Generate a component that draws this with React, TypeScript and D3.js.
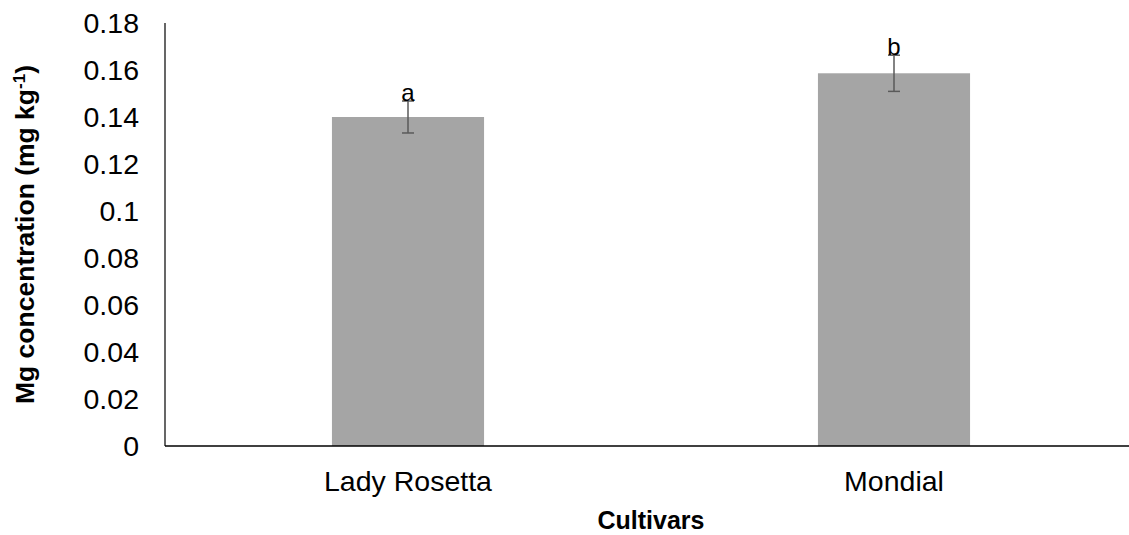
import React from "react";
import * as d3 from "d3";

// Mean Mg concentration per cultivar with standard error and significance letters
const cultivars = ["Lady Rosetta", "Mondial"];
const mgMeans = [0.14, 0.1586];
const mgErrors = [0.0068, 0.0077];
const sigLetters = ["a", "b"];
const yTickValues = [0, 0.02, 0.04, 0.06, 0.08, 0.1, 0.12, 0.14, 0.16, 0.18];
const yTickLabels = ["0", "0.02", "0.04", "0.06", "0.08", "0.1", "0.12", "0.14", "0.16", "0.18"];

const W = 1129;
const H = 535;
const plot = { left: 165, top: 23, right: 1137, bottom: 446 };
const FONT = "Liberation Sans, Arial, Helvetica, sans-serif";

export default function App() {
  const x = d3
    .scaleBand<string>()
    .domain(cultivars)
    .range([plot.left, plot.right])
    .paddingInner(0.687)
    .paddingOuter(0.3435);
  const y = d3.scaleLinear().domain([0, 0.18]).range([plot.bottom, plot.top]);

  return (
    <svg
      width={W}
      height={H}
      style={{ position: "absolute", left: 0, top: 0, display: "block", background: "#fff" }}
      fontFamily={FONT}
    >
      {/* bars */}
      {cultivars.map((c, i) => (
        <rect
          key={c}
          x={x(c)}
          y={y(mgMeans[i])}
          width={x.bandwidth()}
          height={y(0) - y(mgMeans[i])}
          fill="#a5a5a5"
        />
      ))}

      {/* error bars */}
      {cultivars.map((c, i) => {
        const cx = (x(c) as number) + x.bandwidth() / 2;
        const lo = y(mgMeans[i] - mgErrors[i]);
        const hi = y(mgMeans[i] + mgErrors[i]);
        return (
          <g key={c + "-err"} stroke="#5a5a5a" strokeWidth={1.5}>
            <line x1={cx} x2={cx} y1={lo} y2={hi} />
            <line x1={cx - 6} x2={cx + 6} y1={lo} y2={lo} />
            <line x1={cx - 6} x2={cx + 6} y1={hi} y2={hi} />
          </g>
        );
      })}

      {/* significance letters */}
      {cultivars.map((c, i) => (
        <text
          key={c + "-sig"}
          x={(x(c) as number) + x.bandwidth() / 2}
          y={y(mgMeans[i] + mgErrors[i])}
          textAnchor="middle"
          fontSize={24}
          fill="#000"
        >
          {sigLetters[i]}
        </text>
      ))}

      {/* axes */}
      <line x1={plot.left} x2={plot.left} y1={plot.top} y2={plot.bottom} stroke="#000" strokeWidth={1.2} />
      <line x1={plot.left} x2={plot.right} y1={plot.bottom} y2={plot.bottom} stroke="#000" strokeWidth={1.5} />

      {/* y tick labels */}
      {yTickValues.map((v, i) => (
        <text key={v} x={139} y={y(v) + 10} textAnchor="end" fontSize={28.5} fill="#000">
          {yTickLabels[i]}
        </text>
      ))}

      {/* category labels */}
      {cultivars.map((c) => (
        <text
          key={c + "-lbl"}
          x={(x(c) as number) + x.bandwidth() / 2}
          y={491}
          textAnchor="middle"
          fontSize={28.5}
          fill="#000"
        >
          {c}
        </text>
      ))}

      {/* axis titles */}
      <text
        x={(plot.left + plot.right) / 2}
        y={529}
        textAnchor="middle"
        fontSize={25}
        fontWeight="bold"
        fill="#000"
      >
        Cultivars
      </text>
      <text
        transform={`translate(34,${(plot.top + plot.bottom) / 2}) rotate(-90)`}
        textAnchor="middle"
        fontSize={26.5}
        fontWeight="bold"
        fill="#000"
      >
        Mg concentration (mg kg
        <tspan baselineShift="super" fontSize={17}>-1</tspan>)
      </text>
    </svg>
  );
}
